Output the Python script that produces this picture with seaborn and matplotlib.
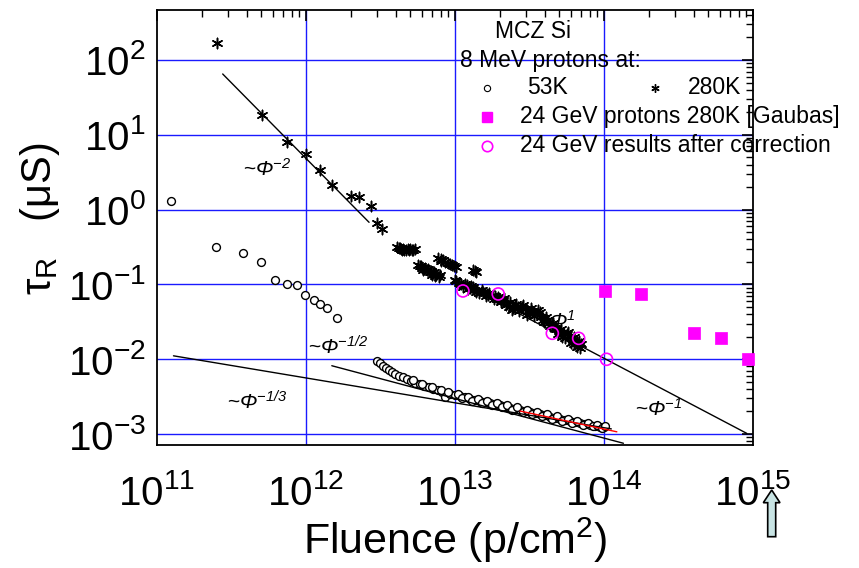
import numpy as np
import pandas as pd
import matplotlib
matplotlib.use("Agg")
import matplotlib.pyplot as plt
import seaborn as sns
from matplotlib.patches import Polygon
from matplotlib.ticker import LogLocator, LogFormatterMathtext, NullFormatter
from matplotlib.lines import Line2D

# ---------------- data ----------------
# 8 MeV protons, 53 K (open circles)
k53_fluence = [1.24e11, 2.5e11, 3.76e11, 5.0e11, 6.2e11, 7.4e11, 8.65e11, 9.9e11,
               1.13e12, 1.25e12, 1.38e12, 1.62e12,
               2.98e12, 3.14e12, 3.31e12, 3.44e12, 3.59e12, 3.76e12, 3.96e12, 4.19e12,
               4.46e12, 4.74e12, 5.07e12, 5.42e12, 5.82e12, 6.22e12, 6.69e12, 7.15e12,
               7.65e12, 8.15e12, 8.57e12, 9.25e12, 1.0e13, 1.08e13, 1.17e13, 1.26e13,
               1.36e13, 1.47e13, 1.59e13, 1.72e13, 1.85e13, 2.00e13, 2.17e13, 2.34e13,
               2.53e13, 2.73e13, 2.95e13, 3.19e13, 3.44e13, 3.72e13, 4.02e13, 4.34e13,
               4.69e13, 5.07e13, 5.47e13, 5.91e13, 6.39e13, 6.90e13, 7.45e13, 8.05e13,
               8.70e13, 9.40e13, 1.0e14,
               5.2e12, 6.0e12, 7.0e12, 8.0e12, 9.0e12, 1.05e13, 1.12e13, 1.22e13, 1.30e13,
               1.42e13, 1.52e13, 1.65e13, 1.78e13, 1.92e13, 2.08e13, 2.25e13, 2.42e13,
               2.62e13, 2.85e13, 3.05e13, 3.30e13, 3.55e13, 3.85e13, 4.15e13, 4.5e13,
               4.85e13, 5.25e13, 5.7e13, 6.1e13, 6.6e13, 7.2e13, 7.8e13, 8.4e13, 9.0e13,
               9.7e13, 1.02e14]
k53_tau = [1.30, 0.319, 0.263, 0.201, 0.113, 0.102, 0.098, 0.0722,
           0.0612, 0.0547, 0.0488, 0.0359,
           9.46e-3, 8.81e-3, 8.11e-3, 7.55e-3, 7.11e-3, 6.68e-3, 6.34e-3, 6.01e-3,
           5.73e-3, 5.38e-3, 5.11e-3, 4.85e-3, 4.62e-3, 4.38e-3, 4.21e-3, 4.00e-3,
           3.84e-3, 3.64e-3, 3.15e-3, 3.40e-3, 3.29e-3, 3.19e-3, 3.10e-3, 2.97e-3,
           2.87e-3, 2.79e-3, 2.68e-3, 2.60e-3, 2.52e-3, 2.42e-3, 2.34e-3, 2.25e-3,
           2.18e-3, 2.09e-3, 2.03e-3, 1.97e-3, 1.89e-3, 1.83e-3, 1.78e-3, 1.71e-3,
           1.65e-3, 1.60e-3, 1.54e-3, 1.49e-3, 1.45e-3, 1.40e-3, 1.36e-3, 1.32e-3,
           1.29e-3, 1.25e-3, 1.23e-3,
           5.3e-3, 4.7e-3, 4.3e-3, 3.9e-3, 3.6e-3, 3.45e-3, 3.0e-3, 3.15e-3, 2.75e-3,
           2.95e-3, 2.62e-3, 2.80e-3, 2.45e-3, 2.62e-3, 2.30e-3, 2.45e-3, 2.12e-3,
           2.28e-3, 1.95e-3, 2.12e-3, 1.86e-3, 1.98e-3, 1.72e-3, 1.86e-3, 1.60e-3,
           1.74e-3, 1.50e-3, 1.60e-3, 1.42e-3, 1.50e-3, 1.32e-3, 1.42e-3, 1.27e-3, 1.34e-3,
           1.20e-3, 1.28e-3]

# 8 MeV protons, 280 K (asterisks)
k280_fluence = [2.52e11, 5.05e11, 7.5e11, 9.95e11, 1.25e12, 1.5e12, 2.0e12, 2.26e12,
                2.74e12, 3.01e12, 3.25e12,
                4.07e12, 4.27e12, 4.47e12, 4.68e12, 4.90e12, 5.13e12, 5.37e12, 4.57e12, 5.01e12,
                4.2e12, 4.4e12, 4.8e12, 5.25e12, 4.35e12,
                5.68e12, 5.89e12, 6.17e12, 6.46e12, 6.76e12, 7.08e12, 7.41e12, 7.76e12,
                6.0e12, 6.6e12, 7.2e12, 7.0e12,
                5.8e12, 6.3e12, 6.9e12, 7.5e12, 6.1e12, 7.3e12, 7.9e12,
                7.69e12, 8.32e12, 8.91e12, 9.55e12, 1.02e13,
                8.0e12, 8.6e12, 9.2e12, 9.9e12, 8.1e12,
                1.33e13, 1.36e13, 1.39e13,
                1.0e13, 1.07e13, 1.14e13, 1.20e13, 1.26e13, 1.32e13, 1.41e13, 1.51e13,
                1.58e13, 1.66e13, 1.78e13, 1.86e13, 2.0e13, 2.11e13, 2.24e13, 2.40e13,
                2.51e13, 2.63e13, 2.80e13, 2.95e13, 3.18e13, 3.31e13, 3.55e13, 3.72e13,
                3.89e13, 4.07e13, 4.27e13, 4.47e13, 4.79e13, 5.01e13, 5.33e13, 5.62e13,
                5.89e13, 6.17e13, 6.56e13, 6.90e13, 5.25e13, 6.31e13, 4.57e13, 3.98e13,
                3.02e13, 2.29e13, 1.91e13, 1.38e13,
                1.02e13, 1.10e13, 1.17e13, 1.23e13, 1.29e13, 1.35e13, 1.45e13, 1.55e13,
                1.62e13, 1.70e13, 1.82e13, 1.95e13, 2.04e13, 2.14e13, 2.19e13, 2.34e13,
                2.45e13, 2.57e13, 2.69e13, 2.88e13, 3.09e13, 3.24e13, 3.39e13, 3.63e13,
                3.80e13, 4.17e13, 4.37e13, 4.68e13, 4.90e13, 5.13e13, 5.50e13, 5.75e13,
                6.03e13, 6.31e13, 6.61e13, 6.76e13, 7.0e13]
k280_tau = [167, 18.4, 8.1, 5.48, 3.38, 2.13, 1.52, 1.47,
            1.11, 0.668, 0.545,
            0.313, 0.302, 0.295, 0.292, 0.288, 0.292, 0.295, 0.285, 0.299,
            0.308, 0.290, 0.296, 0.287, 0.300,
            0.182, 0.174, 0.162, 0.155, 0.148, 0.141, 0.135, 0.127,
            0.165, 0.160, 0.145, 0.132,
            0.177, 0.166, 0.150, 0.138, 0.158, 0.128, 0.132,
            0.225, 0.209, 0.195, 0.182, 0.173,
            0.218, 0.200, 0.190, 0.175, 0.205,
            0.158, 0.152, 0.147,
            0.115, 0.105, 0.0933, 0.0977, 0.0891, 0.0912, 0.0832, 0.0841,
            0.0759, 0.0724, 0.0692, 0.0708, 0.0631, 0.0618, 0.0562, 0.0455,
            0.0525, 0.0501, 0.0504, 0.0468, 0.0410, 0.0447, 0.0398, 0.0432,
            0.0334, 0.0363, 0.0302, 0.0275, 0.0251, 0.0240, 0.0222, 0.0214,
            0.0200, 0.0182, 0.0163, 0.0140, 0.0200, 0.0158, 0.0302, 0.0316,
            0.0389, 0.0501, 0.0631, 0.0794,
            0.110, 0.102, 0.100, 0.0871, 0.0955, 0.0851, 0.0776, 0.0794,
            0.0708, 0.0759, 0.0646, 0.0676, 0.0575, 0.0661, 0.0537, 0.0589,
            0.0490, 0.0550, 0.0447, 0.0525, 0.0437, 0.0479, 0.0380, 0.0457,
            0.0372, 0.0339, 0.0282, 0.0263, 0.0219, 0.0251, 0.0191, 0.0229,
            0.0166, 0.0200, 0.0145, 0.0174, 0.0158]

# 24 GeV protons 280 K [Gaubas] (filled magenta squares)
gaubas_fluence = [1.02e14, 1.76e14, 4.04e14, 6.07e14, 9.3e14]
gaubas_tau = [0.0817, 0.0745, 0.0222, 0.0190, 0.00997]

# 24 GeV results after correction (open magenta circles)
corr_fluence = [1.13e13, 1.95e13, 4.5e13, 6.76e13, 1.04e14]
corr_tau = [0.0817, 0.0745, 0.0222, 0.0190, 0.00997]

# power-law guide lines (end points)
fit_m2_x, fit_m2_y = [2.76e11, 2.65e12], [65.0, 0.676]
fit_m1_x, fit_m1_y = [9.75e12, 9.08e14], [0.118, 1.02e-3]
fit_mhalf_x, fit_mhalf_y = [1.49e12, 1.35e14], [8.18e-3, 7.52e-4]
fit_mthird_x, fit_mthird_y = [1.29e11, 1.12e14], [1.11e-2, 1.17e-3]
fit_red_x, fit_red_y = [2.73e13, 1.22e14], [2.03e-3, 1.07e-3]

x_ticks = [1e11, 1e12, 1e13, 1e14, 1e15]
y_ticks = [1e-3, 1e-2, 1e-1, 1e0, 1e1, 1e2]

# ---------------- style ----------------
sns.set_theme(style="white")
plt.rcParams["font.family"] = ["Liberation Sans", "DejaVu Sans"]
plt.rcParams["mathtext.fontset"] = "custom"
plt.rcParams["mathtext.rm"] = "Liberation Sans"
plt.rcParams["mathtext.it"] = "Liberation Sans:italic"
plt.rcParams["mathtext.sf"] = "Liberation Sans:italic"
plt.rcParams["mathtext.bf"] = "Liberation Sans:bold"
plt.rcParams["axes.unicode_minus"] = False
for k in ["text.color", "axes.labelcolor", "xtick.color", "ytick.color",
          "xtick.labelcolor", "ytick.labelcolor"]:
    plt.rcParams[k] = "black"

W, H = 859, 568
fig = plt.figure(figsize=(W / 100, H / 100), dpi=100)
ax = fig.add_axes([157 / W, 1 - 445 / H, (753 - 157) / W, (445 - 9.5) / H])
ax.set_xscale("log")
ax.set_yscale("log")
ax.set_xlim(1e11, 1e15)
ax.set_ylim(7.13e-4, 473)

# grid
ax.set_axisbelow(True)
for xv in x_ticks[1:-1]:
    ax.axvline(xv, color="#1a1aff", lw=1.0, zorder=0)
for yv in y_ticks:
    ax.axhline(yv, color="#1a1aff", lw=1.0, zorder=0)

# fit lines
for fx, fy in [(fit_m2_x, fit_m2_y), (fit_m1_x, fit_m1_y),
               (fit_mhalf_x, fit_mhalf_y), (fit_mthird_x, fit_mthird_y)]:
    sns.lineplot(x=fx, y=fy, ax=ax, color="black", lw=1.0, estimator=None,
                 sort=False, zorder=3)
sns.lineplot(x=fit_red_x, y=fit_red_y, ax=ax, color="red", lw=1.0, estimator=None,
             sort=False, zorder=4)

# data
df53 = pd.DataFrame({"fluence": k53_fluence, "tau": k53_tau})
df280 = pd.DataFrame({"fluence": k280_fluence, "tau": k280_tau})
dfg = pd.DataFrame({"fluence": gaubas_fluence, "tau": gaubas_tau})
dfc = pd.DataFrame({"fluence": corr_fluence, "tau": corr_tau})

sns.scatterplot(data=df53, x="fluence", y="tau", ax=ax, marker="o", s=32,
                facecolor="white", edgecolor="black", linewidth=1.0, zorder=2)
ax.scatter(df280["fluence"], df280["tau"], marker=(6, 2, 0), s=55,
           color="black", linewidths=1.1, zorder=2)
sns.scatterplot(data=dfg, x="fluence", y="tau", ax=ax, marker="s", s=70,
                color="#ff00ff", edgecolor="#ff00ff", linewidth=0.5, zorder=5,
                clip_on=False)
sns.scatterplot(data=dfc, x="fluence", y="tau", ax=ax, marker="o", s=75,
                facecolor="none", edgecolor="#ff00ff", linewidth=1.2, zorder=5)

# axes cosmetics
for sp in ax.spines.values():
    sp.set_color("black")
    sp.set_linewidth(1.3)
ax.set_xticks(x_ticks)
ax.set_yticks(y_ticks)
ax.xaxis.set_major_formatter(LogFormatterMathtext())
ax.yaxis.set_major_formatter(LogFormatterMathtext())
ax.xaxis.set_minor_locator(LogLocator(base=10, subs=np.arange(2, 10), numticks=50))
ax.yaxis.set_minor_locator(LogLocator(base=10, subs=np.arange(2, 10), numticks=50))
ax.xaxis.set_minor_formatter(NullFormatter())
ax.yaxis.set_minor_formatter(NullFormatter())
ax.tick_params(which="both", direction="in", top=True, right=True, color="black")
ax.tick_params(which="major", length=8, width=1.2)
ax.tick_params(which="minor", length=5, width=1.0)
ax.tick_params(axis="x", which="major", labelsize=29, pad=21)
ax.tick_params(axis="y", which="major", labelsize=29, pad=8)

ax.set_xlabel("Fluence (p/cm$^{2}$)", fontsize=31)
ax.xaxis.set_label_coords(0.5, -0.162)
ax.set_ylabel("τ$_{\\mathregular{R}}$   (μS)", fontsize=30)
ax.yaxis.set_label_coords(-0.160, 0.52)

# annotations
def ax_xy(px, py):
    return ((px - 157) / 596, (445 - py) / 435.5)

ann_fs = 15
for label, (px, py) in [(r"~$\mathsf{\Phi^{-2}}$", (243, 169)),
                        (r"~$\mathsf{\Phi^{-1/2}}$", (308, 347)),
                        (r"~$\mathsf{\Phi^{-1/3}}$", (227, 402)),
                        (r"~$\mathsf{\Phi^{-1}}$", (635, 409)),
                        (r"$\mathsf{\Phi^{1}}$", (549, 321))]:
    ax.text(*ax_xy(px, py), label, transform=ax.transAxes, fontsize=ann_fs,
            ha="left", va="center", zorder=6)

# legend block
leg_fs = 16.5
ax.text(*ax_xy(495, 32), "MCZ Si", transform=ax.transAxes, fontsize=leg_fs,
        ha="left", va="center")
ax.text(*ax_xy(460, 60), "8 MeV protons at:", transform=ax.transAxes, fontsize=leg_fs,
        ha="left", va="center")
ax.text(*ax_xy(527, 88), "53K", transform=ax.transAxes, fontsize=leg_fs,
        ha="left", va="center")
ax.text(*ax_xy(688, 88), "280K", transform=ax.transAxes, fontsize=leg_fs,
        ha="left", va="center")
ax.text(*ax_xy(520, 117), "24 GeV protons 280K [Gaubas]", transform=ax.transAxes,
        fontsize=leg_fs, ha="left", va="center")
ax.text(*ax_xy(520, 146), "24 GeV results after correction", transform=ax.transAxes,
        fontsize=leg_fs, ha="left", va="center")
for (px, py), kw in [((487, 88), dict(marker="o", ms=4.5, mfc="white", mec="black", mew=0.8)),
                     ((655, 88), dict(marker=(6, 2, 0), ms=6, color="black", mew=1.0)),
                     ((487, 117), dict(marker="s", ms=7.5, color="#ff00ff")),
                     ((487, 146), dict(marker="o", ms=7.5, mfc="none", mec="#ff00ff", mew=1.2))]:
    ax.add_line(Line2D([ax_xy(px, py)[0]], [ax_xy(px, py)[1]], transform=ax.transAxes,
                       linestyle="none", clip_on=False, **kw))

# arrow at the bottom right
arrow_px = [(771.7, 490), (780, 502.7), (775.7, 502.7), (775.7, 536.7),
            (767.7, 536.7), (767.7, 502.7), (763.3, 502.7)]
arrow = Polygon([(x / W, 1 - y / H) for x, y in arrow_px], closed=True,
                transform=fig.transFigure, facecolor="#c8e4e4", edgecolor="black", lw=1.2)
fig.patches.append(arrow)

fig.savefig("out.png", dpi=100)
